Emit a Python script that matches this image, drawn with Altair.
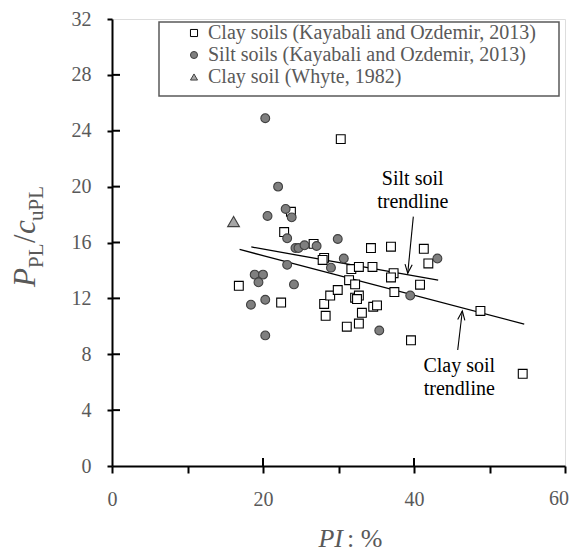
import altair as alt
import pandas as pd

# ---------------- data ----------------
clay_pi = [30.3, 23.7, 22.8, 26.7, 28.1, 27.9, 16.8, 22.4, 28.1, 28.3, 28.9, 29.9,
           34.3, 36.95, 41.3, 41.9, 31.7, 32.7, 34.5, 37.3, 36.95, 31.4, 32.2, 40.8,
           37.4, 32.2, 32.7, 32.45, 34.6, 35.1, 33.1, 31.1, 32.7, 39.6, 48.8, 54.4]
clay_val = [23.4, 18.2, 16.75, 15.9, 14.9, 14.75, 12.9, 11.7, 11.6, 10.75, 12.2, 12.6,
            15.6, 15.7, 15.55, 14.5, 14.1, 14.25, 14.25, 13.8, 13.5, 13.3, 13.0, 12.98,
            12.45, 12.05, 12.2, 11.95, 11.4, 11.5, 10.97, 9.97, 10.2, 9.0, 11.1, 6.6]

silt_pi = [20.3, 22.0, 23.0, 20.6, 23.8, 23.2, 29.9, 24.3, 24.7, 25.5, 27.1, 23.2,
           29.0, 18.9, 20.0, 19.4, 24.1, 20.3, 18.4, 20.3, 43.1, 30.7, 39.5, 35.4]
silt_val = [24.9, 20.0, 18.4, 17.9, 17.8, 16.3, 16.25, 15.6, 15.6, 15.8, 15.75, 14.4,
            14.2, 13.7, 13.7, 13.15, 13.0, 11.9, 11.55, 9.35, 14.85, 14.85, 12.2, 9.7]

whyte_pi = [16.1]
whyte_val = [17.5]

series_names = ["Clay soils (Kayabali and Ozdemir, 2013)",
                "Silt soils (Kayabali and Ozdemir, 2013)",
                "Clay soil (Whyte, 1982)"]

clay_trend_x = [16.9, 54.6]
clay_trend_y = [15.5, 10.16]
silt_trend_x = [18.45, 43.2]
silt_trend_y = [15.68, 13.3]

# arrows: tail -> tip
silt_arrow_x = [39.91, 39.17]
silt_arrow_y = [17.85, 13.79]
clay_arrow_x = [45.79, 46.40]
clay_arrow_y = [8.30, 11.10]

note_text = ["Silt soil", "trendline", "Clay soil", "trendline"]
note_x = [39.83, 39.83, 46.0, 46.0]
note_y = [20.55, 18.92, 7.18, 5.49]

x_ticks = [0, 10, 20, 30, 40, 50, 60]
x_major = [20, 40]
x_last_label = [60]
y_ticks = list(range(0, 33))
y_major = [4, 8, 12, 16, 20, 24, 28]

# ---------------- tables ----------------
pts = pd.DataFrame({
    "pi": clay_pi + silt_pi + whyte_pi,
    "val": clay_val + silt_val + whyte_val,
    "series": [series_names[0]] * len(clay_pi) + [series_names[1]] * len(silt_pi)
              + [series_names[2]] * len(whyte_pi),
})
trend = pd.DataFrame({
    "pi": clay_trend_x + silt_trend_x,
    "val": clay_trend_y + silt_trend_y,
    "grp": ["clay", "clay", "silt", "silt"],
})
arrows = pd.DataFrame({
    "pi": silt_arrow_x + clay_arrow_x,
    "val": silt_arrow_y + clay_arrow_y,
    "grp": ["silt", "silt", "clay", "clay"],
})
silt_head = pd.DataFrame({"pi": [silt_arrow_x[1]], "val": [silt_arrow_y[1]]})
clay_head = pd.DataFrame({"pi": [clay_arrow_x[1]], "val": [clay_arrow_y[1]]})
notes = pd.DataFrame({"pi": note_x, "val": note_y, "t": note_text})

SERIF = "Liberation Serif"
W, H = 453, 447

xs = alt.Scale(domain=[0, 60], nice=False)
ys = alt.Scale(domain=[0, 32], nice=False)

x_axis = alt.Axis(values=x_ticks,
                  labelExpr="(datum.value % 20 == 0 && datum.value < 60) ? datum.label : ''",
                  tickSize=7, tickWidth=2, tickColor="black", domainWidth=2,
                  domainColor="black", labelFont=SERIF, labelFontSize=20,
                  labelColor="#595959", labelPadding=16, labelFlush=False,
                  labelOverlap=False, grid=False, title=None)
y_axis = alt.Axis(values=y_ticks, labelExpr="datum.value % 4 == 0 ? datum.label : ''",
                  tickSize=5, tickWidth=2, tickColor="black", domainWidth=2,
                  domainColor="black", labelFont=SERIF, labelFontSize=20,
                  labelColor="#595959", labelPadding=16, labelFlush=False,
                  labelOverlap=False, grid=False, title=None)

points = alt.Chart(pts).mark_point(filled=True, strokeWidth=1.1, opacity=1).encode(
    x=alt.X("pi:Q", scale=xs, axis=x_axis),
    y=alt.Y("val:Q", scale=ys, axis=y_axis),
    shape=alt.Shape("series:N", scale=alt.Scale(domain=series_names,
                                                 range=["square", "circle", "triangle-up"]),
                    legend=alt.Legend(title=None, orient="none", legendX=72, legendY=4,
                                      labelFont=SERIF, labelFontSize=20, labelColor="#595959",
                                      symbolSize=50, symbolStrokeWidth=1, rowPadding=2,
                                      labelOffset=4, padding=0, labelLimit=500)),
    fill=alt.Fill("series:N", scale=alt.Scale(domain=series_names,
                                               range=["white", "#7f7f7f", "#a6a6a6"])),
    stroke=alt.Stroke("series:N", scale=alt.Scale(domain=series_names,
                                                   range=["#000000", "#404040", "#404040"])),
    size=alt.condition("datum.series == 'Clay soil (Whyte, 1982)'", alt.value(140), alt.value(78)),
)

trend_lines = alt.Chart(trend).mark_line(color="black", strokeWidth=1.3).encode(
    x="pi:Q", y="val:Q", detail="grp:N")

arrow_lines = alt.Chart(arrows).mark_line(color="black", strokeWidth=1.1).encode(
    x="pi:Q", y="val:Q", detail="grp:N")

silt_arrowhead = alt.Chart(silt_head).mark_point(
    shape="M-0.4,-1L0,0L0.4,-1", filled=False, stroke="black", strokeWidth=1.1,
    size=324, angle=5.6, opacity=1).encode(x="pi:Q", y="val:Q")
clay_arrowhead = alt.Chart(clay_head).mark_point(
    shape="M-0.4,1L0,0L0.4,1", filled=False, stroke="black", strokeWidth=1.1,
    size=324, angle=6.7, opacity=1).encode(x="pi:Q", y="val:Q")

note_marks = alt.Chart(notes).mark_text(font=SERIF, fontSize=20, color="black",
                                        baseline="middle", align="center").encode(
    x="pi:Q", y="val:Q", text="t:N")

# last x tick label, kept inside the page
last_lab = alt.Chart(pd.DataFrame({"v": x_last_label})).mark_text(
    font=SERIF, fontSize=20, color="#595959", align="right", baseline="top", dx=4).encode(
    x="v:Q", y=alt.value(H + 7 + 16), text="v:Q")

# inner halves of the major ticks
xt = pd.DataFrame({"v": x_major})
yt = pd.DataFrame({"v": y_major})
x_inner = alt.Chart(xt).mark_rule(color="black", strokeWidth=2).encode(
    x="v:Q", y=alt.value(H), y2=alt.value(H - 8))
y_inner = alt.Chart(yt).mark_rule(color="black", strokeWidth=2).encode(
    y="v:Q", x=alt.value(0), x2=alt.value(8))

# legend frame
legend_box = alt.Chart(pd.DataFrame({"a": [0]})).mark_rect(
    fillOpacity=0, stroke="#595959", strokeWidth=1.5).encode(
    x=alt.value(47), x2=alt.value(447), y=alt.value(3), y2=alt.value(77))

# axis titles
one = pd.DataFrame({"a": [0]})
xt1 = alt.Chart(one).mark_text(text="PI", font=SERIF, fontStyle="italic", fontSize=26,
                               color="#595959", align="right", baseline="alphabetic").encode(
    x=alt.value(231), y=alt.value(528))
xt2 = alt.Chart(one).mark_text(text=": %", font=SERIF, fontSize=26,
                               color="#595959", align="left", baseline="alphabetic").encode(
    x=alt.value(235), y=alt.value(528))

def ypiece(txt, size, italic, bx, by):
    kw = dict(text=txt, font=SERIF, fontSize=size, color="#595959", align="left",
              baseline="alphabetic", angle=270)
    if italic:
        kw["fontStyle"] = "italic"
    return alt.Chart(one).mark_text(**kw).encode(x=alt.value(bx), y=alt.value(by))

yt_parts = [
    ypiece("P", 31, True, -77, 268),
    ypiece("PL", 21, False, -69, 249),
    ypiece("/", 31, False, -77, 224),
    ypiece("c", 31, True, -77, 215),
    ypiece("uPL", 21, False, -69, 202),
]

chart = alt.layer(
    trend_lines, arrow_lines, silt_arrowhead, clay_arrowhead, note_marks,
    x_inner, y_inner, legend_box, points, last_lab, xt1, xt2, *yt_parts
).properties(
    width=W, height=H,
    autosize=alt.AutoSizeParams(type="none"),
    padding={"left": 104, "top": 11, "right": 4, "bottom": 88},
).configure_view(stroke="black", strokeWidth=1.5).configure(
    background="white", font=SERIF)

chart.save("out.html", embed_options={"renderer": "svg", "actions": False})
